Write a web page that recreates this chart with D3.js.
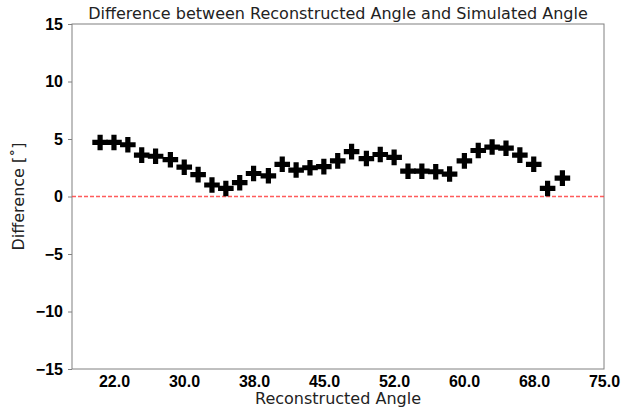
<!DOCTYPE html>
<html>
<head>
<meta charset="utf-8">
<script src="https://cdn.jsdelivr.net/npm/d3@7/dist/d3.min.js"></script>
<style>
  body { margin: 0; background: #fff; }
  svg { display: block; font-family: "DejaVu Sans", sans-serif; }
  .tick text { font-weight: bold; font-size: 16px; fill: #000; }
  .domain, .tick line { stroke: #808080; }
</style>
</head>
<body>
<svg class="root"></svg>
<script>
// reconstructed angle (deg)
var angles = [20.5, 22.0, 23.5, 25.0, 26.5, 28.1, 29.6, 31.1, 32.6, 34.1, 35.6, 37.1,
  38.7, 40.2, 41.7, 43.2, 44.7, 46.2, 47.7, 49.3, 50.8, 52.3, 53.8, 55.3, 56.8,
  58.3, 59.9, 61.4, 62.9, 64.4, 65.9, 67.4, 68.9, 70.5];
// reconstructed - simulated (deg)
var diffs = [4.7, 4.7, 4.5, 3.6, 3.5, 3.2, 2.55, 1.9, 1.0, 0.7, 1.2, 2.0,
  1.8, 2.8, 2.3, 2.5, 2.6, 3.1, 3.9, 3.3, 3.65, 3.4, 2.2, 2.2, 2.15,
  1.95, 3.1, 4.0, 4.3, 4.2, 3.6, 2.8, 0.7, 1.6];

var xTickLabels = ["22.0", "30.0", "38.0", "45.0", "52.0", "60.0", "68.0", "75.0"];
var yTicks = [-15, -10, -5, 0, 5, 10, 15];

var W = 630, H = 408;
var margin = {top: 24, right: 26, bottom: 39, left: 72},
  width = W - margin.left - margin.right,
  height = H - margin.top - margin.bottom;

var svg = d3.select(".root").attr("width", W).attr("height", H);
var chart = svg.append("g")
  .attr("transform", "translate(" + margin.left + "," + margin.top + ")");

var x = d3.scaleLinear().domain([17.46, 75]).range([0, width]);
var y = d3.scaleLinear().domain([-15, 15]).range([height, 0]);

// x ticks evenly spaced between 22 and 75, labelled from the list
var xTickVals = xTickLabels.map(function(d, i) { return 22 + i * (75 - 22) / (xTickLabels.length - 1); });

chart.append("g")
  .attr("transform", "translate(0," + height + ")")
  .call(d3.axisBottom(x).tickValues(xTickVals)
    .tickFormat(function(d, i) { return xTickLabels[i]; })
    .tickSize(0).tickPadding(7))
  .call(function(g) { g.select(".domain").remove(); });

chart.append("g")
  .call(d3.axisLeft(y).tickValues(yTicks)
    .tickFormat(function(d) { return d < 0 ? "\u2212" + Math.abs(d) : d; })
    .tickSize(4).tickPadding(5))
  .call(function(g) { g.select(".domain").remove(); });

// frame
chart.append("rect")
  .attr("width", width).attr("height", height)
  .attr("fill", "none").attr("stroke", "#808080").attr("stroke-width", 1);

// zero line
chart.append("line")
  .attr("x1", 0).attr("x2", width)
  .attr("y1", y(0)).attr("y2", y(0))
  .attr("stroke", "#ff4040").attr("stroke-opacity", 0.85)
  .attr("stroke-width", 1.5).attr("stroke-dasharray", "4,2");

var cross = d3.symbol().type(d3.symbolCross).size(135);
chart.selectAll(".pt")
  .data(angles)
  .enter().append("path")
  .attr("class", "pt")
  .attr("d", cross)
  .attr("fill", "#000")
  .attr("transform", function(d, i) { return "translate(" + x(d) + "," + y(diffs[i]) + ")"; });

svg.append("text")
  .attr("x", margin.left + width / 2).attr("y", 19)
  .attr("text-anchor", "middle").attr("font-size", 16).attr("fill", "#222")
  .text("Difference between Reconstructed Angle and Simulated Angle");

svg.append("text")
  .attr("x", margin.left + width / 2).attr("y", 404)
  .attr("text-anchor", "middle").attr("font-size", 16).attr("fill", "#222")
  .text("Reconstructed Angle");

svg.append("text")
  .attr("transform", "translate(24," + (margin.top + height / 2) + ") rotate(-90)")
  .attr("text-anchor", "middle").attr("font-size", 16).attr("fill", "#222")
  .text("Difference [\u02da]");
</script>
</body>
</html>
